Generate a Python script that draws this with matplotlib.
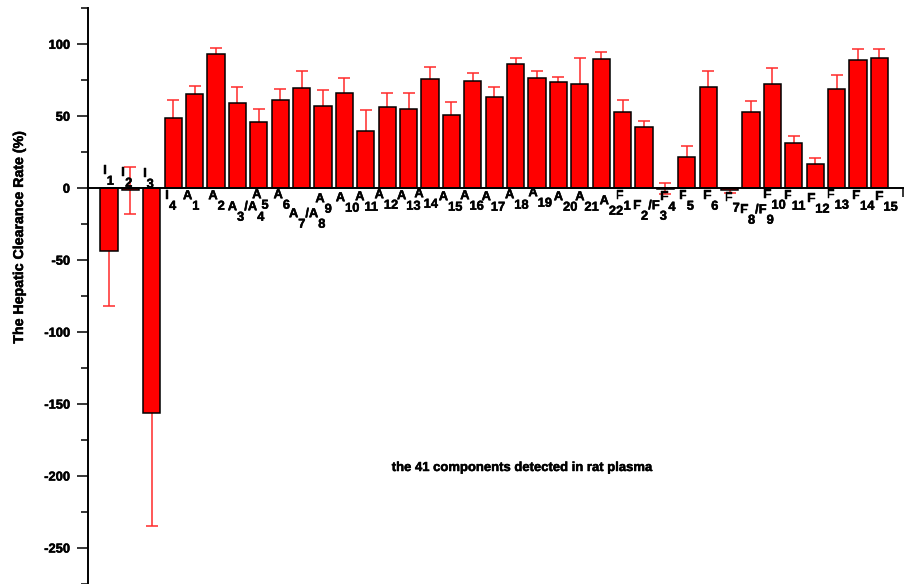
import re
import matplotlib
matplotlib.use("Agg")
import matplotlib.pyplot as plt
from matplotlib.ticker import MultipleLocator
import matplotlib.patheffects as pe

plt.rcParams["font.family"] = ["Liberation Sans", "DejaVu Sans"]
plt.rcParams["font.weight"] = "bold"
plt.rcParams["axes.unicode_minus"] = False

# Components detected in rat plasma
names = ["I1", "I2", "I3", "I4",
         "A1", "A2", "A3/A4", "A5", "A6", "A7/A8", "A9", "A10", "A11", "A12",
         "A13", "A14", "A15", "A16", "A17", "A18", "A19", "A20", "A21", "A22",
         "F1", "F2/F3", "F4", "F5", "F6", "F7", "F8/F9", "F10", "F11", "F12",
         "F13", "F14", "F15"]

# Hepatic clearance rate (%) and its error
clearance = [-43.3, -1.5, -156.5, 49.0, 65.3, 93.3, 59.0, 45.8, 61.1, 69.9,
             56.9, 66.4, 39.8, 56.2, 55.3, 76.1, 50.7, 74.5, 63.2, 86.5,
             76.6, 73.6, 72.4, 90.0, 52.8, 42.8, -0.35, 22.0, 70.3, -1.5,
             53.2, 72.4, 31.2, 16.7, 68.7, 89.1, 90.5]
clearance_err = [38.2, 16.5, 78.5, 12.5, 5.8, 4.4, 11.3, 9.5, 8.0, 11.8,
                 11.3, 10.2, 14.4, 10.2, 11.0, 7.9, 9.2, 5.8, 7.2, 3.7,
                 5.1, 3.7, 17.8, 4.9, 8.7, 3.7, 3.7, 7.6, 11.4, 1.8,
                 7.4, 11.1, 5.3, 4.6, 10.2, 7.8, 6.4]

# Label placement: first-letter centre offset from bar centre and its
# distance from the zero line (pixels, positive = below the axis)
label_dx = [-4, -7, -7, -6, -7, -3, -5, -2, -2, -8, -3, -4, -6, -8, -7, -11,
            -8, -8, -8, -6, -4, 0, 0, 3, -3, -7, -1, -4, -1, -1, -7, -5, -6,
            -4, -6, -2, 0]
label_dy = [-17, -15, -14, 8, 8, 8, 19, 7, 7, 26, 11, 10, 9, 7, 8, 6,
            9, 8, 9, 7, 5, 9, 9, 13, 8, 18, 9, 8, 8, 10, 22, 7, 8,
            11, 7, 8, 9]
SUB_DROP = 10.5

heavy = [pe.withStroke(linewidth=0.35, foreground="black")]

fig = plt.figure(figsize=(9.06, 5.84), dpi=100)
ax = fig.add_axes([88 / 906, 0.0, 815 / 906, 1 - 8.3 / 584])

x = list(range(len(names)))
ax.errorbar(x, clearance, yerr=clearance_err, fmt="none", ecolor="#ff2a2a",
            elinewidth=1.1, capsize=4.3, capthick=1.1, zorder=1)
ax.bar(x, clearance, width=0.8, color="#ff0000", edgecolor="black",
       linewidth=1.1, zorder=2)

ax.set_xlim(-0.98, 37.1)
ax.set_ylim(-275, 125)

for s in ("top", "right"):
    ax.spines[s].set_visible(False)
ax.spines["bottom"].set_position(("data", 0))
ax.spines["bottom"].set_zorder(5)
for s in ("left", "bottom"):
    ax.spines[s].set_linewidth(1.4)

ax.yaxis.set_major_locator(MultipleLocator(50))
ax.yaxis.set_minor_locator(MultipleLocator(25))
ax.tick_params(axis="y", which="major", length=8, width=1.1, pad=5,
               labelsize=9.3, direction="out")
ax.tick_params(axis="y", which="minor", length=5, width=1.1, direction="out")
for t in ax.get_yticklabels():
    t.set_fontweight("bold")
    t.set_path_effects(heavy)

# only an end tick on the category axis
ax.set_xticks([37.1])
ax.set_xticklabels([""])
ax.tick_params(axis="x", which="major", length=6.5, width=1.1, direction="out")

fig.canvas.draw()
renderer = fig.canvas.get_renderer()

label_font = dict(fontsize=9.3, fontweight="bold", color="black")


def split_label(name):
    pieces = []
    for k, part in enumerate(name.split("/")):
        m = re.match(r"([A-Z]+)(\d+)", part)
        letter, num = m.group(1), m.group(2)
        pieces.append((("/" if k else "") + letter, 0))
        pieces.append((num, 1))
    return pieces


for i, name in enumerate(names):
    pieces = split_label(name)
    base = -label_dy[i]
    first = ax.annotate(pieces[0][0], xy=(i, 0), xycoords="data",
                        xytext=(label_dx[i], base), textcoords="offset pixels",
                        ha="center", va="center", path_effects=heavy,
                        **label_font)
    bb = first.get_window_extent(renderer)
    cursor = label_dx[i] + bb.width / 2
    for txt, low in pieces[1:]:
        yoff = base - SUB_DROP if low else base
        t = ax.annotate(txt, xy=(i, 0), xycoords="data",
                        xytext=(cursor, yoff), textcoords="offset pixels",
                        ha="left", va="center", path_effects=heavy,
                        **label_font)
        cursor += t.get_window_extent(renderer).width

fig.text(19 / 906, 1 - 238 / 584, "The Hepatic Clearance Rate (%)",
         rotation=90, ha="center", va="center", fontsize=10.2,
         fontweight="bold", path_effects=heavy)
fig.text(521 / 906, 1 - 468 / 584, "the 41 components detected in rat plasma",
         ha="center", va="center", fontsize=9.4, fontweight="bold",
         path_effects=heavy)

fig.savefig("out.png", dpi=100)
